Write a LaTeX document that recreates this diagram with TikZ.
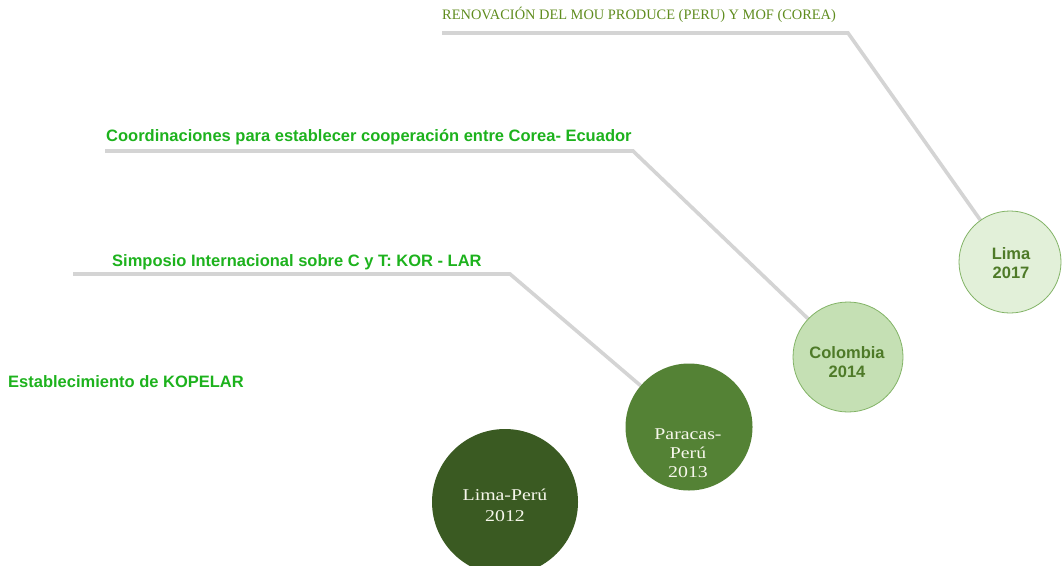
\documentclass[tikz,border=0pt]{standalone}
\usepackage{fontspec}
\setmainfont{Liberation Serif}
\newfontfamily\arialf{Liberation Sans}
\newfontfamily\simf[FakeStretch=1.2]{Liberation Serif}
\definecolor{linegray}{HTML}{D4D4D4}
\definecolor{txtgreen}{HTML}{1DB21D}
\definecolor{oliveg}{HTML}{5F8C1E}
\definecolor{darkg}{HTML}{3A5A22}
\definecolor{midg}{HTML}{548235}
\definecolor{lightg}{HTML}{C5E0B4}
\definecolor{paleg}{HTML}{E2F0D9}
\definecolor{ringg}{HTML}{82B366}
\definecolor{circtxt}{HTML}{4E7A28}
\definecolor{cream}{HTML}{F7F7EC}
\pgfdeclarelayer{bg}
\pgfsetlayers{bg,main}
\begin{document}
\begin{tikzpicture}[x=1pt,y=-1pt,
  connector/.style={draw=linegray,line width=3.6pt},
  title/.style={anchor=west,inner sep=0pt,text=txtgreen,font=\arialf\bfseries\fontsize{16.5}{19}\selectfont},
  disc/.style={circle,inner sep=0pt},
  ring/.style={circle,inner sep=0pt,draw=ringg,line width=0.8pt},
  seriftext/.style={inner sep=0pt,align=center,text=cream,font=\simf\fontsize{16.5}{20}\selectfont},
  sanstext/.style={inner sep=0pt,align=center,text=circtxt,font=\arialf\bfseries\fontsize{16.5}{19}\selectfont}]
\useasboundingbox (0,0) rectangle (1064,565);
% circles
\node[disc,fill=darkg,minimum size=146pt] (c2012) at (505,502) {};
\node[disc,fill=midg,minimum size=127pt] (c2013) at (689,427) {};
\node[ring,fill=lightg,minimum size=110pt] (c2014) at (848,357) {};
\node[ring,fill=paleg,minimum size=102pt] (c2017) at (1010,262) {};
% circle texts
\node[seriftext,font=\simf\fontsize{16.5}{21}\selectfont] (c2012t) at (505,505) {Lima-Perú\\2012};
\node[seriftext,font=\simf\fontsize{16.5}{19}\selectfont] (c2013t) at (688,453) {Paracas-\\Perú\\2013};
\node[sanstext] (c2014t) at (847,362) {Colombia\\2014};
\node[sanstext] (c2017t) at (1011,263) {Lima\\2017};
% coordinates for connectors
\coordinate (a1) at (442,33);
\coordinate (a2) at (848,33);
\coordinate (b1) at (105,151);
\coordinate (b2) at (633,151);
\coordinate (d1) at (73,274);
\coordinate (d2) at (510,274);
\begin{pgfonlayer}{bg}
\draw[connector] (a1) -- (a2) -- (c2017);
\draw[connector] (b1) -- (b2) -- (c2014);
\draw[connector] (d1) -- (d2) -- (c2013);
\end{pgfonlayer}
% labels
\node[anchor=west,inner sep=0pt,text=oliveg,font=\fontsize{14.4}{16}\selectfont] (t1) at (442,15) {RENOVACIÓN DEL MOU PRODUCE (PERU) Y MOF (COREA)};
\node[title] (t2) at (106,137) {Coordinaciones para establecer cooperación entre Corea- Ecuador};
\node[title] (t3) at (112,262) {Simposio Internacional sobre C y T: KOR - LAR};
\node[title] (t4) at (8,382) {Establecimiento de KOPELAR};
\end{tikzpicture}
\end{document}
